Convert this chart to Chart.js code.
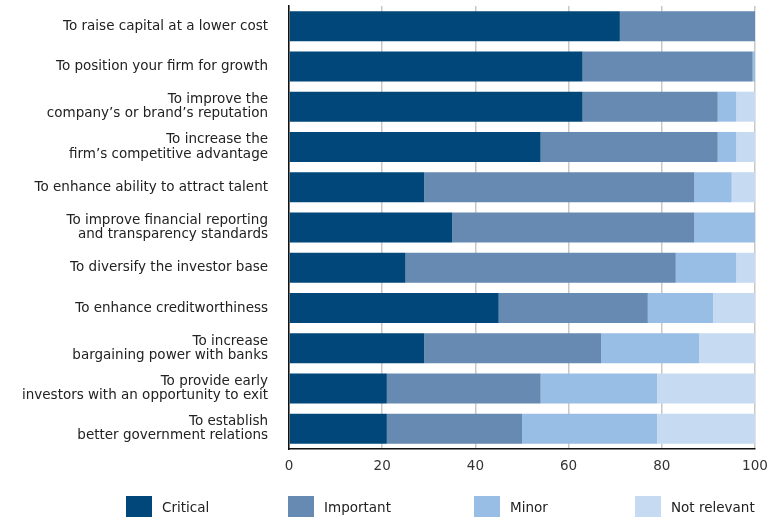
<!DOCTYPE html>
<html>
<head>
<meta charset="utf-8">
<script src="https://cdn.jsdelivr.net/npm/chart.js@4.4.1/dist/chart.umd.min.js"></script>
<style>
  html, body { margin: 0; padding: 0; background: #fff; }
  #wrap { position: relative; width: 778px; height: 520px; }
  #legend { position: absolute; left: 126px; top: 496px; display: flex;
            font-family: 'DejaVu Sans', sans-serif; font-size: 13.5px; color: #222; }
  #legend .item { display: flex; align-items: center; }
  #legend .item:nth-child(1) { width: 162px; }
  #legend .item:nth-child(2) { width: 186px; }
  #legend .item:nth-child(3) { width: 161px; }
  #legend .box { width: 26px; height: 21px; margin-right: 10px; }
</style>
</head>
<body>
<div id="wrap">
  <canvas id="chart" width="778" height="520"></canvas>
  <div id="legend"></div>
</div>
<script>
// Reasons and survey shares (%)
var categories = [
    'To raise capital at a lower cost',
    'To position your firm for growth',
    ['To improve the', 'company\u2019s or brand\u2019s reputation'],
    ['To increase the', 'firm\u2019s competitive advantage'],
    'To enhance ability to attract talent',
    ['To improve financial reporting', 'and transparency standards'],
    'To diversify the investor base',
    'To enhance creditworthiness',
    ['To increase', 'bargaining power with banks'],
    ['To provide early', 'investors with an opportunity to exit'],
    ['To establish', 'better government relations']
];
var critical    = [71, 63, 63, 54, 29, 35, 25, 45, 29, 21, 21];
var important   = [29, 36.5, 29, 38, 58, 52, 58, 32, 38, 33, 29];
var minor       = [0, 0.5, 4, 4, 8, 13, 13, 14, 21, 25, 29];
var notRelevant = [0, 0, 4, 4, 5, 0, 4, 9, 12, 21, 21];
var seriesNames = ['Critical', 'Important', 'Minor', 'Not relevant'];
var xTicks = [0, 20, 40, 60, 80, 100];

var colors = ['#01477a', '#668ab1', '#99bee5', '#c6dbf2'];

Chart.defaults.font.family = "'DejaVu Sans', sans-serif";
Chart.defaults.color = '#222';

var seriesData = [critical, important, minor, notRelevant];
var datasets = seriesNames.map(function (name, i) {
    return {
        label: name, data: seriesData[i], backgroundColor: colors[i],
        borderWidth: 0, barPercentage: 0.745, categoryPercentage: 1
    };
});

new Chart(document.getElementById('chart').getContext('2d'), {
    type: 'bar',
    data: { labels: categories, datasets: datasets },
    options: {
        indexAxis: 'y',
        responsive: false, animation: false,
        layout: { padding: { top: 6, right: 23, bottom: 47, left: 0 } },
        plugins: { legend: { display: false }, tooltip: { enabled: false } },
        scales: {
            x: {
                stacked: true, min: 0, max: 100,
                afterBuildTicks: function (scale) {
                    scale.ticks = xTicks.map(function (v) { return { value: v }; });
                },
                afterFit: function (scale) { scale.height = 24; },
                grid: { color: '#c8c8c8', lineWidth: 1.5, drawTicks: false },
                border: { color: '#111', width: 1.5 },
                ticks: { padding: 9, color: '#333', font: { size: 13.5 } }
            },
            y: {
                stacked: true,
                afterFit: function (scale) {
                    scale.width = 289;
                    // labels sit in the middle of their rows, no extra room needed
                    scale.paddingTop = 0;
                    scale.paddingBottom = 0;
                },
                // invisible tick marks keep the labels away from the axis
                grid: { color: 'rgba(0,0,0,0)', drawTicks: true, tickLength: 18, tickColor: 'rgba(0,0,0,0)' },
                border: { color: '#111', width: 1.5 },
                ticks: { padding: 3, color: '#222', font: { size: 13.5, lineHeight: 1.05 } }
            }
        }
    }
});

// legend below the chart
var legendEl = document.getElementById('legend');
seriesNames.forEach(function (name, i) {
    var item = document.createElement('div');
    item.className = 'item';
    var box = document.createElement('span');
    box.className = 'box';
    box.style.background = colors[i];
    var txt = document.createElement('span');
    txt.textContent = name;
    item.appendChild(box);
    item.appendChild(txt);
    legendEl.appendChild(item);
});
</script>
</body>
</html>
